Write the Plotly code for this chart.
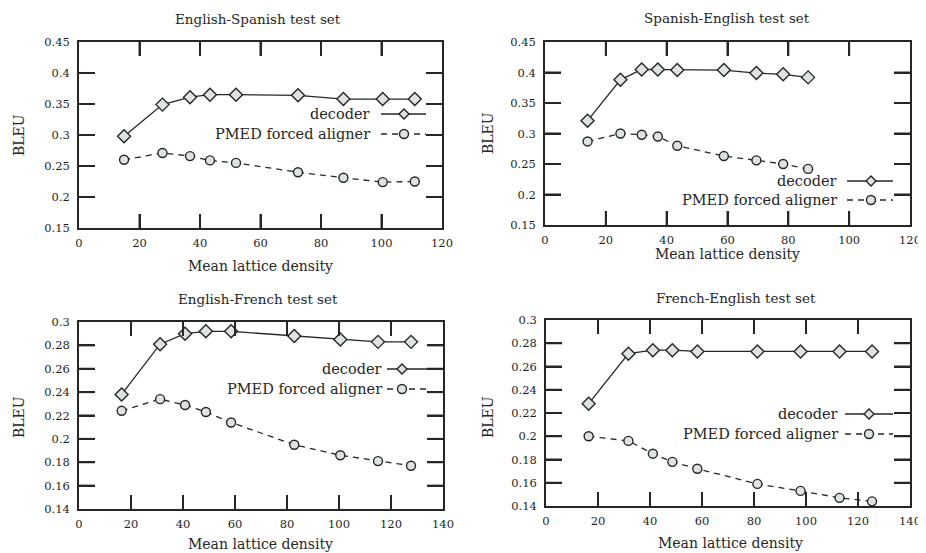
import plotly.graph_objects as go

# the page has an 8px body margin; figure is shifted accordingly
OFF = 8
W, H = 926 - OFF, 553 - OFF

panel_titles = ["English-Spanish test set", "Spanish-English test set",
                "English-French test set", "French-English test set"]
series_names = ["decoder", "PMED forced aligner"]
x_title = "Mean lattice density"
y_title = "BLEU"

# English-Spanish
es_density = [14.9, 27.6, 36.7, 43.3, 51.9, 72.4, 87.4, 100.4, 111.0]
es_decoder = [0.298, 0.349, 0.361, 0.365, 0.365, 0.364, 0.358, 0.358, 0.358]
es_pmed = [0.260, 0.271, 0.266, 0.259, 0.255, 0.240, 0.231, 0.224, 0.225]
# Spanish-English
se_density = [14.0, 24.8, 31.8, 37.1, 43.5, 58.8, 69.5, 78.3, 86.5]
se_decoder = [0.321, 0.388, 0.405, 0.405, 0.404, 0.404, 0.399, 0.397, 0.392]
se_pmed = [0.287, 0.300, 0.298, 0.295, 0.280, 0.263, 0.256, 0.250, 0.242]
# English-French
ef_density = [16.4, 31.2, 40.8, 48.8, 58.5, 82.8, 100.5, 115.0, 127.7]
ef_decoder = [0.238, 0.281, 0.290, 0.292, 0.292, 0.288, 0.285, 0.283, 0.283]
ef_pmed = [0.224, 0.234, 0.229, 0.223, 0.214, 0.195, 0.186, 0.181, 0.177]
# French-English
fe_density = [16.4, 31.7, 41.1, 48.6, 58.2, 81.3, 97.9, 112.9, 125.4]
fe_decoder = [0.228, 0.271, 0.274, 0.274, 0.273, 0.273, 0.273, 0.273, 0.273]
fe_pmed = [0.200, 0.196, 0.185, 0.178, 0.172, 0.159, 0.153, 0.147, 0.144]

# axis ticks
x_ticks_top = [0, 20, 40, 60, 80, 100, 120]
x_ticks_bottom = [0, 20, 40, 60, 80, 100, 120, 140]
y_ticks_top = [0.15, 0.2, 0.25, 0.3, 0.35, 0.4, 0.45]
y_ticks_bottom = [0.14, 0.16, 0.18, 0.2, 0.22, 0.24, 0.26, 0.28, 0.3]
y_text_top = ["0.15", "0.2", "0.25", "0.3", "0.35", "0.4", "0.45"]
y_text_bottom = ["0.14", "0.16", "0.18", "0.2", "0.22", "0.24", "0.26", "0.28", "0.3"]

x_ticks = [x_ticks_top, x_ticks_top, x_ticks_bottom, x_ticks_bottom]
y_ticks = [y_ticks_top, y_ticks_top, y_ticks_bottom, y_ticks_bottom]
y_texts = [y_text_top, y_text_top, y_text_bottom, y_text_bottom]

panels = [
    (es_density, es_decoder, es_pmed),
    (se_density, se_decoder, se_pmed),
    (ef_density, ef_decoder, ef_pmed),
    (fe_density, fe_decoder, fe_pmed),
]

# layout in window pixels (plot area boxes: left, top, right, bottom)
boxes = [(79, 42, 442, 228), (545, 42, 910, 225),
         (79, 322, 443, 509), (546, 320, 910, 506)]
title_pos = [(258, 19), (727, 18), (258, 299), (736, 298)]
xtitle_pos = [(260, 266), (727, 254), (260, 544), (730, 543)]
ytitle_pos = [(19, 135), (488, 133), (19, 417), (488, 417)]
legend_pos = [  # text right end x, decoder row y, pmed row y, marker x, line x0, line x1
    (372, 114, 134, 404, 381, 426),
    (839, 181, 200, 871, 847, 893),
    (384, 369, 389, 402, 387, 430),
    (840, 414, 434, 869, 845, 893),
]
X_TICKLEN, Y_TICKLEN = 14, 16


def px(x):
    return (x - OFF) / W


def py(y):
    return 1 - (y - OFF) / H


INK = "#262626"
FILL = "#dde3e3"
FONT = "DejaVu Serif"
DEC_STYLE = dict(line=dict(color=INK, width=1.3),
                 marker=dict(symbol="diamond", size=10, color=FILL,
                             line=dict(color=INK, width=1.4)))
PMED_STYLE = dict(line=dict(color=INK, width=1.3, dash="6px,5px"),
                  marker=dict(symbol="circle", size=9, color=FILL,
                              line=dict(color=INK, width=1.4)))
TICK = dict(color=INK, width=2)

fig = go.Figure()
annotations = []
shapes = []

for i, (dens, dec, pmed) in enumerate(panels):
    ax = "" if i == 0 else str(i + 1)
    xr, yr = "x" + ax, "y" + ax
    fig.add_trace(go.Scatter(x=dens, y=dec, mode="lines+markers", name=series_names[0],
                             xaxis=xr, yaxis=yr, showlegend=False, **DEC_STYLE))
    fig.add_trace(go.Scatter(x=dens, y=pmed, mode="lines+markers", name=series_names[1],
                             xaxis=xr, yaxis=yr, showlegend=False, **PMED_STYLE))
    l, t, r, b = boxes[i]
    xt, yt = x_ticks[i], y_ticks[i]
    common = dict(showline=True, linecolor=INK, linewidth=1.6, mirror="allticks",
                  ticks="inside", tickcolor=INK, tickwidth=2,
                  showgrid=False, zeroline=False,
                  tickfont=dict(family=FONT, size=11.5, color="#1e1e1e"))
    fig.layout["xaxis" + ax] = dict(domain=[px(l), px(r)], range=[xt[0], xt[-1]],
                                    tickmode="array", tickvals=xt,
                                    ticktext=[str(v) for v in xt],
                                    ticklen=X_TICKLEN, ticklabelstandoff=3, anchor=yr,
                                    **common)
    fig.layout["yaxis" + ax] = dict(domain=[py(b), py(t)], range=[yt[0], yt[-1]],
                                    tickmode="array", tickvals=yt, ticktext=y_texts[i],
                                    ticklen=Y_TICKLEN, ticklabelstandoff=5, anchor=xr,
                                    **common)
    # inside tick marks on all four sides, as domain-relative shapes
    fx = X_TICKLEN / (b - t)
    fy = Y_TICKLEN / (r - l)
    for v in xt[1:-1]:
        shapes.append(dict(type="line", xref=xr, yref=yr + " domain", x0=v, x1=v,
                           y0=0, y1=fx, line=TICK))
        shapes.append(dict(type="line", xref=xr, yref=yr + " domain", x0=v, x1=v,
                           y0=1 - fx, y1=1, line=TICK))
    for v in yt[1:-1]:
        shapes.append(dict(type="line", xref=xr + " domain", yref=yr, y0=v, y1=v,
                           x0=0, x1=fy, line=TICK))
        shapes.append(dict(type="line", xref=xr + " domain", yref=yr, y0=v, y1=v,
                           x0=1 - fy, x1=1, line=TICK))
    tx, ty = title_pos[i]
    annotations.append(dict(text=panel_titles[i], x=px(tx), y=py(ty), xref="paper",
                            yref="paper", showarrow=False, xanchor="center", yanchor="middle",
                            font=dict(family=FONT, size=13.5, color=INK)))
    xx, xy = xtitle_pos[i]
    annotations.append(dict(text=x_title, x=px(xx), y=py(xy), xref="paper",
                            yref="paper", showarrow=False, xanchor="center", yanchor="middle",
                            font=dict(family=FONT, size=14, color=INK)))
    yx, yy = ytitle_pos[i]
    annotations.append(dict(text=y_title, x=px(yx), y=py(yy), xref="paper",
                            yref="paper", showarrow=False, textangle=-90,
                            xanchor="center", yanchor="middle",
                            font=dict(family=FONT, size=14, color=INK)))
    # legend (text on the left, sample on the right, as in the original)
    tend, yd, yp, mx, lx0, lx1 = legend_pos[i]
    for name, ry, style, kind in ((series_names[0], yd, DEC_STYLE, "diamond"),
                                  (series_names[1], yp, PMED_STYLE, "circle")):
        annotations.append(dict(text=name, x=px(tend), y=py(ry), xref="paper",
                                yref="paper", showarrow=False, xanchor="right",
                                yanchor="middle",
                                font=dict(family=FONT, size=14.5, color=INK)))
        shapes.append(dict(type="line", xref="paper", yref="paper",
                           x0=px(lx0), x1=px(lx1), y0=py(ry), y1=py(ry),
                           line=dict(color=INK, width=1.3,
                                     dash=style["line"].get("dash", "solid"))))
        if kind == "circle":
            shapes.append(dict(type="circle", xref="paper", yref="paper",
                               x0=px(mx - 4.5), x1=px(mx + 4.5),
                               y0=py(ry + 4.5), y1=py(ry - 4.5),
                               fillcolor=FILL, line=dict(color=INK, width=1.4)))
        else:
            pts = [(mx - 5, ry), (mx, ry - 5), (mx + 5, ry), (mx, ry + 5)]
            path = "M " + " L ".join(f"{px(a):.5f},{py(c):.5f}" for a, c in pts) + " Z"
            shapes.append(dict(type="path", xref="paper", yref="paper", path=path,
                               fillcolor=FILL, line=dict(color=INK, width=1.4)))

fig.update_layout(template="none", width=W, height=H, margin=dict(l=0, r=0, t=0, b=0),
                  annotations=annotations, shapes=shapes, showlegend=False)
fig.write_html("out.html")
